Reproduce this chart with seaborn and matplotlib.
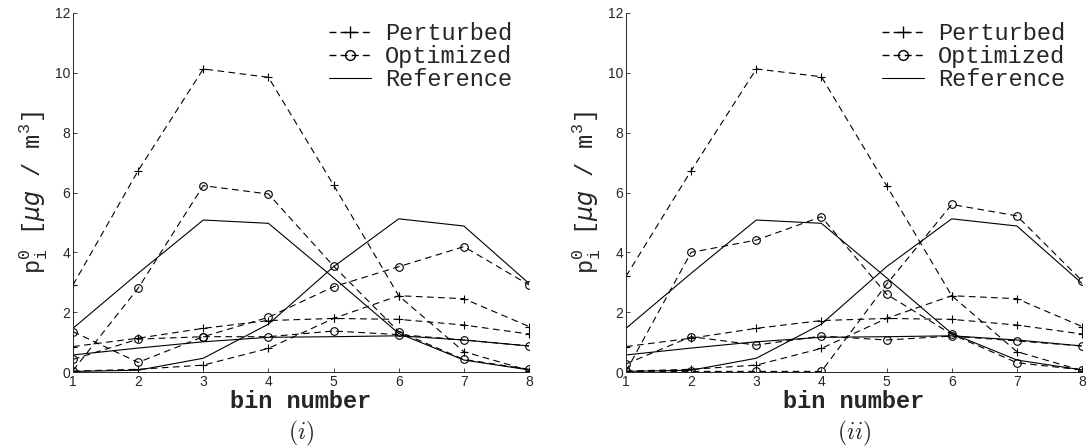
import numpy as np
import pandas as pd
import matplotlib
matplotlib.use("Agg")
import matplotlib.pyplot as plt
from matplotlib.lines import Line2D
import seaborn as sns

# =========================
# Data
# =========================
bins = [1, 2, 3, 4, 5, 6, 7, 8]

# reference distributions (same in both panels)
ref_a = [1.46, 3.30, 5.08, 4.97, 3.15, 1.29, 0.40, 0.07]
ref_b = [0.02, 0.06, 0.46, 1.60, 3.52, 5.12, 4.88, 2.96]
ref_c = [0.57, 0.80, 1.01, 1.16, 1.18, 1.21, 1.07, 0.87]

# perturbed initial guesses
pert_a_i = [2.91, 6.73, 10.13, 9.85, 6.25, 2.55, 0.68, 0.05]
pert_a_ii = [3.20, 6.73, 10.13, 9.87, 6.23, 2.55, 0.68, 0.05]
pert_b = [0.03, 0.09, 0.23, 0.79, 1.79, 2.55, 2.45, 1.52]
pert_c = [0.85, 1.13, 1.46, 1.72, 1.79, 1.76, 1.57, 1.27]

# optimized, panel (i)
opt_a_i = [0.05, 2.80, 6.23, 5.95, 3.54, 1.35, 0.42, 0.09]
opt_b_i = [1.35, 0.32, 1.18, 1.83, 2.85, 3.52, 4.19, 2.91]
opt_c_i = [0.42, 1.10, 1.18, 1.18, 1.37, 1.25, 1.07, 0.87]

# optimized, panel (ii)
opt_a_ii = [0.02, 4.00, 4.41, 5.19, 2.60, 1.26, 0.31, 0.07]
opt_b_ii = [0.02, 0.02, 0.02, 0.02, 2.93, 5.60, 5.22, 3.05]
opt_c_ii = [0.27, 1.18, 0.90, 1.20, 1.07, 1.20, 1.04, 0.87]

panels = [
    ("i", [pert_a_i, pert_b, pert_c], [opt_a_i, opt_b_i, opt_c_i]),
    ("ii", [pert_a_ii, pert_b, pert_c], [opt_a_ii, opt_b_ii, opt_c_ii]),
]
refs = [ref_a, ref_b, ref_c]

# =========================
# Style
# =========================
sns.set_style("ticks")
plt.rcParams["font.family"] = ["Liberation Mono", "DejaVu Sans"]
plt.rcParams["mathtext.fontset"] = "custom"
plt.rcParams["mathtext.rm"] = "Liberation Mono"
plt.rcParams["mathtext.it"] = "DejaVu Sans:italic"

dash = (0, (6, 4))
lw = 0.8

fig = plt.figure(figsize=(10.86, 4.46), dpi=100)

left_px = [73, 626]
for (caption, perts, opts), x0 in zip(panels, left_px):

    ax = fig.add_axes([x0 / 1086, 74 / 446, 456 / 1086, 359 / 446])

    for vals in refs:
        sns.lineplot(x=bins, y=vals, ax=ax, color="black", linewidth=lw)

    for vals in perts:
        sns.lineplot(
            x=bins, y=vals, ax=ax, color="black", linewidth=lw,
            linestyle=dash, marker="+", markersize=5.5,
            markeredgecolor="black", markeredgewidth=0.8
        )

    for vals in opts:
        sns.lineplot(
            x=bins, y=vals, ax=ax, color="black", linewidth=lw,
            linestyle=dash, marker="o", markersize=5.5,
            markerfacecolor="none", markeredgecolor="black",
            markeredgewidth=0.8
        )

    ax.set_xlim(1, 8)
    ax.set_ylim(0, 12)
    ax.set_xticks(bins)
    ax.set_yticks(np.arange(0, 13, 2))
    sns.despine(ax=ax)
    ax.tick_params(direction="in", length=3, width=0.6, labelsize=10, pad=2)
    for lab in ax.get_xticklabels() + ax.get_yticklabels():
        lab.set_family("Liberation Sans")
    for sp in ax.spines.values():
        sp.set_linewidth(0.7)

    ax.set_xlabel("bin number", fontsize=17, fontweight="bold", labelpad=1)
    ax.set_ylabel(
        r"$\mathrm{p}_\mathrm{i}^\mathrm{0}$ [$\mu g$ / m$^\mathrm{3}$]",
        fontsize=17, labelpad=4
    )

    handles = [
        Line2D([], [], color="black", lw=1.0, linestyle=(0, (5, 3)),
               marker="+", markersize=8, markeredgewidth=1.0),
        Line2D([], [], color="black", lw=1.0, linestyle=(0, (5, 3)),
               marker="o", markersize=7, markerfacecolor="none",
               markeredgewidth=1.0),
        Line2D([], [], color="black", lw=lw),
    ]
    ax.legend(
        handles, ["Perturbed", "Optimized", "Reference"],
        loc="upper right", bbox_to_anchor=(1.0, 1.02), frameon=False,
        fontsize=17, handlelength=1.8, handletextpad=0.6,
        labelspacing=0.0, borderpad=0.2
    )

    fig.text(
        (x0 + 228) / 1086, 1 - 433 / 446, "$(" + caption + ")$",
        ha="center", va="center", fontsize=17, math_fontfamily="cm"
    )

plt.savefig("out.png", dpi=100)
